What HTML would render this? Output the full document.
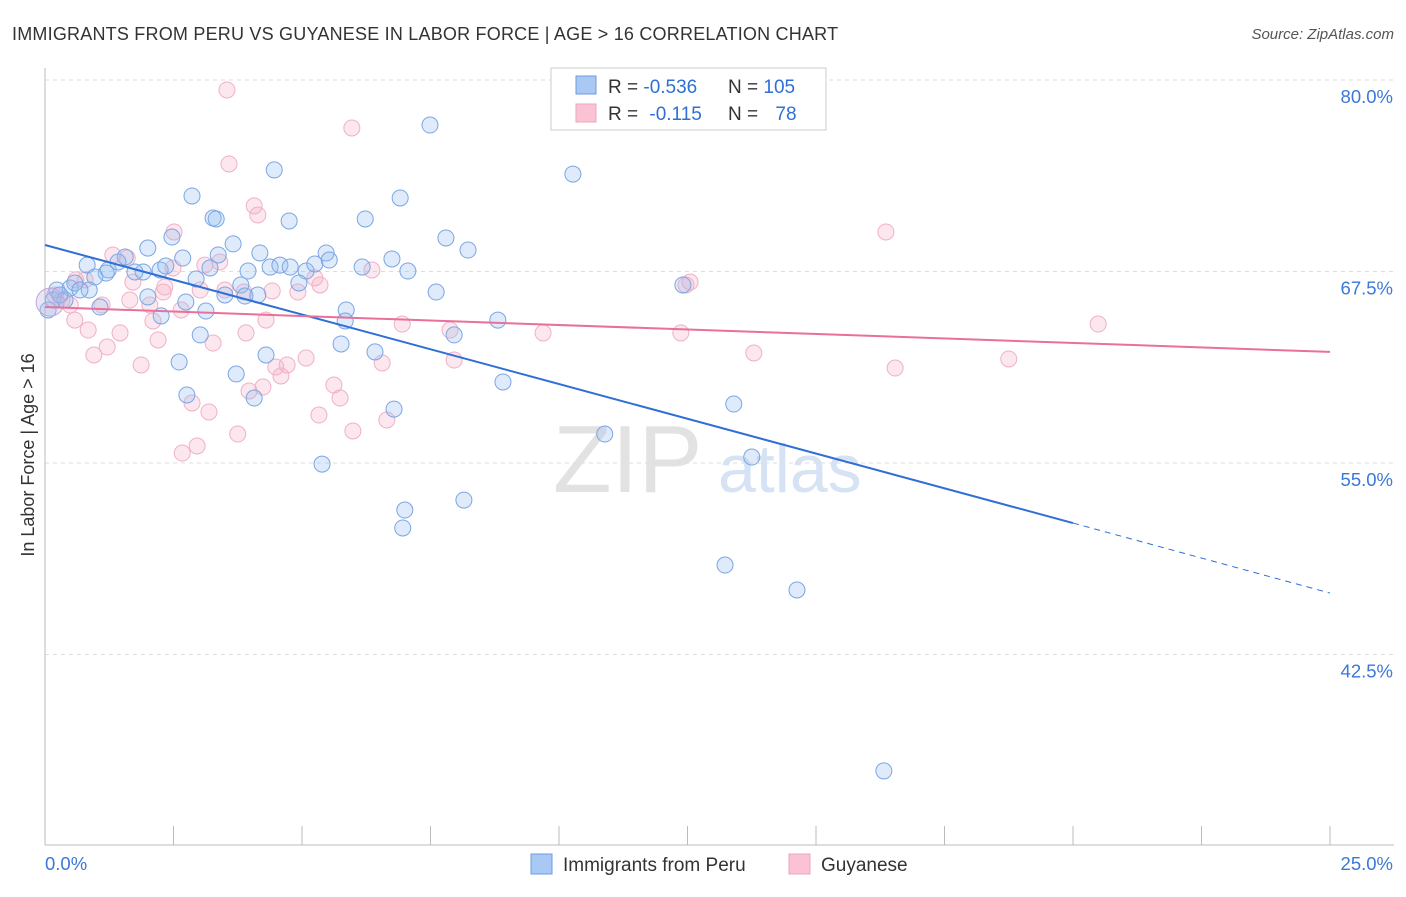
<!DOCTYPE html>
<html><head><meta charset="utf-8"><style>
body{margin:0;background:#fff;font-family:"Liberation Sans",sans-serif;}
svg text{font-family:"Liberation Sans",sans-serif;}
</style></head><body>
<svg id="chart" width="1406" height="892" viewBox="0 0 1406 892">
<text x="12" y="40" font-size="18" fill="#333" letter-spacing="0.21">IMMIGRANTS FROM PERU VS GUYANESE IN LABOR FORCE | AGE &gt; 16 CORRELATION CHART</text>
<text x="1394" y="39" font-size="15" fill="#555" font-style="italic" text-anchor="end">Source: ZipAtlas.com</text>
<g>
<text x="553" y="492" font-size="96" font-family="Liberation Serif" fill="#e2e2e2">ZIP</text>
<text x="718" y="492" font-size="68" fill="#d6e3f5">atlas</text>
</g>
<g id="grid"></g><g id="axes"></g><g id="marks"></g>
<text transform="translate(34,455) rotate(-90)" font-size="18" fill="#333" text-anchor="middle">In Labor Force | Age &gt; 16</text>
<g>
<rect x="551" y="68" width="275" height="62" fill="#fff" stroke="#ccc"/>
<rect x="576" y="76" width="20" height="18" fill="#a9c8f3" stroke="#6a9be0"/>
<rect x="576" y="104" width="20" height="18" fill="#f9c3d3" stroke="#eea5bf"/>
<text x="608" y="93" font-size="19" fill="#333">R = <tspan fill="#2f6fd6">-0.536</tspan></text>
<text x="728" y="93" font-size="19" fill="#333">N = <tspan fill="#2f6fd6">105</tspan></text>
<text x="608" y="120" font-size="19" fill="#333">R = <tspan fill="#2f6fd6" dx="6">-0.115</tspan></text>
<text x="728" y="120" font-size="19" fill="#333">N = <tspan fill="#2f6fd6" dx="12">78</tspan></text>
</g>
<g>
<rect x="531" y="854" width="21" height="20" fill="#a9c8f3" stroke="#6a9be0"/>
<text x="563" y="871" font-size="19" fill="#333">Immigrants from Peru</text>
<rect x="789" y="854" width="21" height="20" fill="#f9c3d3" stroke="#eea5bf"/>
<text x="821" y="871" font-size="19" fill="#333">Guyanese</text>
</g>
</svg>
<script>
const yTicks=[80,67.5,55,42.5];
const yTickLabels=["80.0%","67.5%","55.0%","42.5%"];
const xLabels=["0.0%","25.0%"];
const peruX=[7.49,10.27,4.46,2.86,6.91,3.27,3.33,4.75,6.23,7.80,8.23,3.66,2.47,2.00,1.56,2.68,4.18,5.47,3.37,0.82,1.23,1.91,1.19,1.75,2.24,3.95,4.38,4.57,4.77,5.08,5.25,5.53,6.17,6.75,7.06,2.35,0.97,2.94,3.21,4.94,7.61,3.81,3.50,4.14,2.74,3.89,2.00,0.23,0.16,0.49,0.86,0.39,1.07,3.13,2.26,5.86,5.84,8.81,12.41,3.02,5.76,6.42,7.96,4.30,2.61,3.72,8.91,2.76,4.07,6.79,10.89,13.40,13.75,5.39,8.15,7.00,6.96,13.23,14.63,16.32,0.06,0.29,0.58,1.42,0.68];
const peruY=[77.06,73.86,74.13,72.43,72.30,70.99,70.93,70.80,70.93,69.69,68.90,69.30,69.75,69.03,68.45,68.38,68.71,68.71,68.58,67.92,67.60,67.47,67.40,67.47,67.60,67.53,67.79,67.92,67.79,67.53,67.99,68.25,67.79,68.32,67.53,67.86,67.14,67.01,67.73,66.75,66.16,66.62,65.97,65.97,65.51,65.90,65.84,66.29,65.64,66.42,66.29,65.64,65.18,64.92,64.60,64.99,64.27,64.33,66.62,63.36,62.77,62.25,63.36,62.05,61.59,60.81,60.29,59.44,59.24,58.52,56.89,58.85,55.39,54.93,52.58,51.93,50.76,48.34,46.71,34.90,64.99,65.97,66.75,68.12,66.29];
const guyX=[3.54,5.97,3.58,4.07,4.14,2.51,16.36,1.32,1.60,3.11,6.36,3.40,2.49,1.71,2.33,3.02,12.55,12.47,2.30,5.35,5.25,3.87,4.42,4.92,1.65,2.65,1.11,0.60,2.04,3.50,20.49,0.58,0.84,1.46,2.10,4.30,3.91,2.20,3.27,6.95,7.88,9.69,12.37,1.21,0.95,5.08,6.56,7.96,13.79,18.75,1.87,4.49,4.71,4.59,16.54,5.62,4.24,3.97,5.74,2.86,3.19,5.33,6.65,3.75,5.99,2.96,2.67,0.33,0.19,0.49,0.78];
const guyY=[79.35,76.87,74.52,71.78,71.19,70.08,70.08,68.58,68.38,67.92,67.60,68.12,67.73,66.81,66.49,66.29,66.81,66.62,66.16,66.62,67.08,66.16,66.23,66.16,65.64,64.99,65.31,66.95,65.31,66.29,64.07,64.33,63.68,63.49,64.27,64.33,63.49,63.03,62.83,64.07,63.68,63.49,63.49,62.57,62.05,61.85,61.53,61.72,62.18,61.79,61.40,61.27,61.40,60.68,61.20,60.09,59.96,59.70,59.24,58.92,58.33,58.13,57.81,56.89,57.09,56.11,55.65,65.64,65.97,65.31,66.95];
const peruTrend=[[0,69.23],[20,51.08],[25,46.51]];
const guyTrend=[[0,65.18],[25,62.25]];
const NS="http://www.w3.org/2000/svg";
const xs=v=>45+v/25*1285;
const ys=v=>80+(80-v)/12.5*191.5;
function mk(t,a,p){const e=document.createElementNS(NS,t);for(const k in a)e.setAttribute(k,a[k]);p.appendChild(e);return e;}
const grid=document.getElementById('grid'),axes=document.getElementById('axes'),marks=document.getElementById('marks');
yTicks.forEach((v,i)=>{
 const l=mk('line',{x1:45,x2:1394,y1:ys(v),y2:ys(v),stroke:'#ddd','stroke-dasharray':'4,4'},grid);
 
 
 const t=mk('text',{x:1393,y:ys(v)+23,'font-size':18.5,fill:'#3b78d8','text-anchor':'end'},axes);
 t.textContent=yTickLabels[i];
 
 
});
const ax=mk('line',{x1:45,x2:1394,y1:845,y2:845,stroke:'#bbb'},axes);


const ay=mk('line',{x1:45,x2:45,y1:68,y2:845,stroke:'#bbb'},axes);


for(let i=0;i<=10;i++){const tk=mk('line',{x1:xs(i*2.5),x2:xs(i*2.5),y1:826,y2:845,stroke:'#bbb'},axes);
 
 }
[[0,'start',45],[1,'end',1393]].forEach(([i,a,x])=>{const t=mk('text',{x:x,y:870,'font-size':18.5,fill:'#3b78d8','text-anchor':a},axes);t.textContent=xLabels[i];
 
 });
function dots(X,Y,fill,stroke,name){X.forEach((x,i)=>{const c=mk('circle',{cx:xs(x),cy:ys(Y[i]),r:8,fill:fill,stroke:stroke,'stroke-width':1},marks);
 
 });}
dots(guyX,guyY,'rgba(246,176,200,0.3)','#f0b0c6','guyanese-point');
dots(peruX,peruY,'rgba(150,190,240,0.3)','#7aa6e4','peru-point');
const big=mk('circle',{cx:xs(0.1),cy:ys(65.5),r:14,fill:'rgba(190,180,225,0.35)',stroke:'#c0a8d8'},marks);


const b1=mk('line',{x1:xs(peruTrend[0][0]),y1:ys(peruTrend[0][1]),x2:xs(peruTrend[1][0]),y2:ys(peruTrend[1][1]),stroke:'#2f6fd6','stroke-width':2},marks);


const b2=mk('line',{x1:xs(peruTrend[1][0]),y1:ys(peruTrend[1][1]),x2:xs(peruTrend[2][0]),y2:ys(peruTrend[2][1]),stroke:'#2f6fd6','stroke-width':1,'stroke-dasharray':'6,5'},marks);


const p1=mk('line',{x1:xs(guyTrend[0][0]),y1:ys(guyTrend[0][1]),x2:xs(guyTrend[1][0]),y2:ys(guyTrend[1][1]),stroke:'#e8709a','stroke-width':2},marks);


</script>
</body></html>
